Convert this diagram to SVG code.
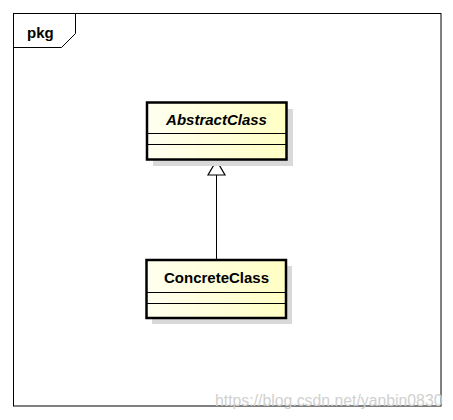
<svg xmlns="http://www.w3.org/2000/svg" width="453" height="420" viewBox="0 0 453 420">
<style>
.frame{fill:none;stroke:#000;stroke-width:1}
.shadow{fill:#d9d9d9}
.box{fill:url(#g);stroke:#000;stroke-width:2.5}
.div{stroke:#000;stroke-width:1}
.t{font-family:"Liberation Sans",Arial,sans-serif;font-weight:bold;font-size:15px;fill:#000}
.wm{font-family:"Liberation Sans",Arial,sans-serif;font-size:15.8px;fill:#d0d0d0}
</style>
<defs>
<linearGradient id="g" x1="0" y1="0" x2="1" y2="0">
<stop offset="0" stop-color="#fffff0"/>
<stop offset="1" stop-color="#ffffc4"/>
</linearGradient>
</defs>
<rect width="453" height="420" fill="#fff"/>
<g id="package">
<rect class="frame" x="13.5" y="13.5" width="427.5" height="392.5"/>
<polyline class="frame" points="13.5,47.5 61.5,47.5 75.5,33.5 75.5,13.5"/>
<text class="t" x="27" y="38">pkg</text>
</g>
<g id="connectors">
<line x1="216.5" y1="175" x2="216.5" y2="260" stroke="#000" stroke-width="1"/>
<polygon points="216.5,160.5 208,175 225,175" fill="#fff" stroke="#000" stroke-width="1.2"/>
</g>
<g id="AbstractClass">
<rect class="shadow" x="153" y="109" width="140" height="57"/>
<rect class="box" x="147" y="102.5" width="139.5" height="57"/>
<line class="div" x1="147" y1="133.5" x2="286.5" y2="133.5"/>
<line class="div" x1="147" y1="144.5" x2="286.5" y2="144.5"/>
<text class="t" x="216.5" y="125" text-anchor="middle" font-style="italic">AbstractClass</text>
</g>
<g id="ConcreteClass">
<rect class="shadow" x="152" y="266" width="140" height="58"/>
<rect class="box" x="146.5" y="260" width="139.5" height="58"/>
<line class="div" x1="146.5" y1="292.5" x2="286" y2="292.5"/>
<line class="div" x1="146.5" y1="303.5" x2="286" y2="303.5"/>
<text class="t" x="216.5" y="283" text-anchor="middle">ConcreteClass</text>
</g>
<text class="wm" x="215" y="406">https://blog.csdn.net/yanbin0830</text>
</svg>
